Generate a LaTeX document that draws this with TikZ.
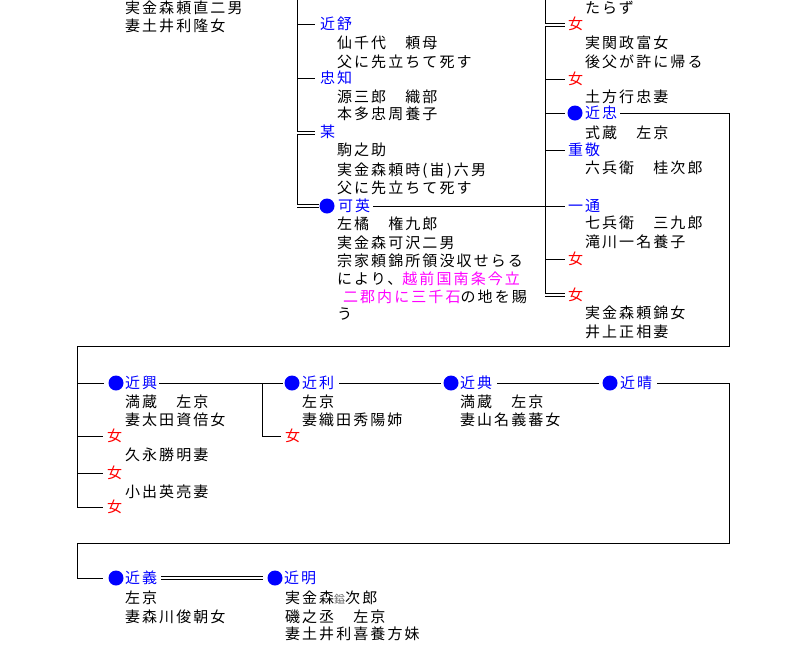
\documentclass[tikz,border=0pt]{standalone}
\usepackage{fontspec}
\newfontfamily\jp{Noto Sans CJK JP}[LetterSpace=14]
\definecolor{nmblue}{RGB}{0,0,255}
\definecolor{femred}{RGB}{255,0,0}
\definecolor{hilite}{RGB}{255,0,255}
\definecolor{gaiji}{RGB}{110,110,110}
\begin{document}
\begin{tikzpicture}[x=1pt,y=-1pt,
  every node/.style={inner sep=0pt, outer sep=0pt},
  tx/.style={anchor=west, font=\jp\fontsize{15}{15}\selectfont, text height=13.2pt, text depth=1.8pt},
  nm/.style={tx, text=nmblue},
  fm/.style={tx, text=femred},
  bdot/.style={circle, fill=nmblue, minimum size=15pt},
  ln/.style={line width=1pt},
  dl/.style={double, double distance=2pt, line width=0.9pt},
]
\useasboundingbox[fill=white] (0,0) rectangle (794,670);

% ---------- top left ----------
\node[tx] (a1) at (125,8) {実金森頼直二男};
\node[tx] (a2) at (125,26) {妻土井利隆女};

% ---------- column 1 (x=297) ----------
\coordinate (v1top) at (297,0);
\coordinate (v1bot) at (297,206);
\draw[ln] (v1top) -- (v1bot);

\node[nm] (chikanobu) at (320,24) {近舒};
\node[tx] at (337,43) {仙千代　頼母};
\node[tx] at (337,62) {父に先立ちて死す};
\draw[ln] (v1top |- chikanobu.west) -- ([xshift=-5pt]chikanobu.west);

\node[nm] (tadatomo) at (320,78) {忠知};
\node[tx] at (337,97) {源三郎　織部};
\node[tx] at (337,114) {本多忠周養子};
\draw[ln] (v1top |- tadatomo.west) -- ([xshift=-5pt]tadatomo.west);

\node[nm] (bou) at (320,132) {某};
\node[tx] at (337,150) {駒之助};
\node[tx] at (337,170) {実金森頼時(峀)六男};
\node[tx] at (337,188) {父に先立ちて死す};
\draw[dl] ([yshift=-1pt]v1top |- bou.west) -- ([xshift=-5pt,yshift=-1pt]bou.west);

\node[bdot] (dkaei) at (327,206) {};
\node[nm] (kaei) at (338,206) {可英};
\node[tx] at (337,224) {左橘　権九郎};
\node[tx] at (337,243) {実金森可沢二男};
\node[tx] at (337,261) {宗家頼錦所領没収せらる};
\node[tx] at (337,279) {により、\textcolor{hilite}{越前国南条今立}};
\node[tx] at (343,297) {\textcolor{hilite}{二郡内に三千石}の地を賜};
\node[tx] at (337,314) {う};
\draw[dl] (v1bot) -- ([xshift=-1pt]dkaei.west |- v1bot);

% ---------- column 2 (x=545) ----------
\coordinate (v2top) at (545,0);
\coordinate (v2bot) at (545,295);
\draw[ln] (v2top) -- (v2bot);

\node[tx] at (585,8) {たらず};

\node[fm] (f1) at (568,24) {女};
\node[tx] at (585,43) {実関政富女};
\node[tx] at (585,62) {後父が許に帰る};
\draw[dl] ([yshift=-1pt]v2top |- f1.west) -- ([xshift=-3pt,yshift=-1pt]f1.west);

\node[fm] (f2) at (568,79) {女};
\node[tx] at (585,97) {土方行忠妻};
\draw[ln] (v2top |- f2.west) -- ([xshift=-3pt]f2.west);

\node[bdot] (dchikatada) at (575,113) {};
\node[nm] (chikatada) at (585,113) {近忠};
\node[tx] at (585,133) {式蔵　左京};
\draw[ln] (v2top |- dchikatada.west) -- ([xshift=-3pt]dchikatada.west);

\node[nm] (shigetaka) at (568,150) {重敬};
\node[tx] at (585,168) {六兵衛　桂次郎};
\draw[ln] (v2top |- shigetaka.west) -- ([xshift=-3pt]shigetaka.west);

\node[nm] (kazumichi) at (568,206) {一通};
\node[tx] at (585,223) {七兵衛　三九郎};
\node[tx] at (585,242) {滝川一名養子};
\draw[ln] ([xshift=3pt]kaei.east) -- ([xshift=-3pt]kazumichi.west);

\node[fm] (f3) at (568,259) {女};
\draw[ln] (v2top |- f3.west) -- ([xshift=-3pt]f3.west);

\node[fm] (f4) at (568,295) {女};
\node[tx] at (585,313) {実金森頼錦女};
\node[tx] at (585,332) {井上正相妻};
\draw[dl] (v2bot) -- ([xshift=-3pt]f4.west |- v2bot);

% ---------- link to next generation ----------
\coordinate (r1) at (729,113);
\coordinate (l1) at (77,346);
\coordinate (v3bot) at (77,507);
\draw[ln] ([xshift=3pt]chikatada.east) -- (r1) |- (l1) -- (v3bot);

% ---------- row 2 ----------
\node[bdot] (dchikaoki) at (116,383) {};
\node[nm] (chikaoki) at (125,383) {近興};
\node[tx] at (125,402) {満蔵　左京};
\node[tx] at (125,420) {妻太田資倍女};
\draw[ln] (l1 |- dchikaoki.west) -- ([xshift=-5pt]dchikaoki.west);

\node[fm] (f5) at (107,436) {女};
\node[tx] at (125,455) {久永勝明妻};
\draw[ln] (l1 |- f5.west) -- ([xshift=-4pt]f5.west);

\node[fm] (f6) at (107,473) {女};
\node[tx] at (125,492) {小出英亮妻};
\draw[ln] (l1 |- f6.west) -- ([xshift=-4pt]f6.west);

\node[fm] (f7) at (107,507) {女};
\draw[ln] (v3bot) -- ([xshift=-4pt]f7.west);

\node[bdot] (dchikatoshi) at (292,383) {};
\node[nm] (chikatoshi) at (302,383) {近利};
\node[tx] at (302,402) {左京};
\node[tx] at (302,420) {妻織田秀陽姉};
\draw[ln] ([xshift=2pt]chikaoki.east) -- ([xshift=-2pt]dchikatoshi.west);

\coordinate (j1) at (262,383);
\node[fm] (f8) at (285,436) {女};
\draw[ln] (j1) |- ([xshift=-4pt]f8.west);

\node[bdot] (dchikanori) at (451,383) {};
\node[nm] (chikanori) at (460,383) {近典};
\node[tx] at (460,402) {満蔵　左京};
\node[tx] at (460,420) {妻山名義蕃女};
\draw[ln] ([xshift=5pt]chikatoshi.east) -- ([xshift=-3pt]dchikanori.west);

\node[bdot] (dchikaharu) at (610,383) {};
\node[nm] (chikaharu) at (620,383) {近晴};
\draw[ln] ([xshift=5pt]chikanori.east) -- ([xshift=-4pt]dchikaharu.west);

% ---------- row 3 ----------
\coordinate (r2) at (729,383);
\coordinate (l2) at (77,543);
\node[bdot] (dchikayoshi) at (116,578) {};
\node[nm] (chikayoshi) at (125,578) {近義};
\node[tx] at (125,598) {左京};
\node[tx] at (125,617) {妻森川俊朝女};
\draw[ln] ([xshift=5pt]chikaharu.east) -- (r2) |- (l2) |- ([xshift=-6pt]dchikayoshi.west);

\node[bdot] (dchikaaki) at (275,578) {};
\node[nm] (chikaaki) at (284,578) {近明};
\node[tx] at (285,598) {実金森{\color{gaiji}\fontsize{11}{11}\selectfont 鎰}次郎};
\node[tx] at (285,617) {磯之丞　左京};
\node[tx] at (285,634) {妻土井利喜養方妹};
\draw[dl] ([xshift=4pt]chikayoshi.east) -- ([xshift=-5pt]dchikaaki.west);

\end{tikzpicture}
\end{document}
